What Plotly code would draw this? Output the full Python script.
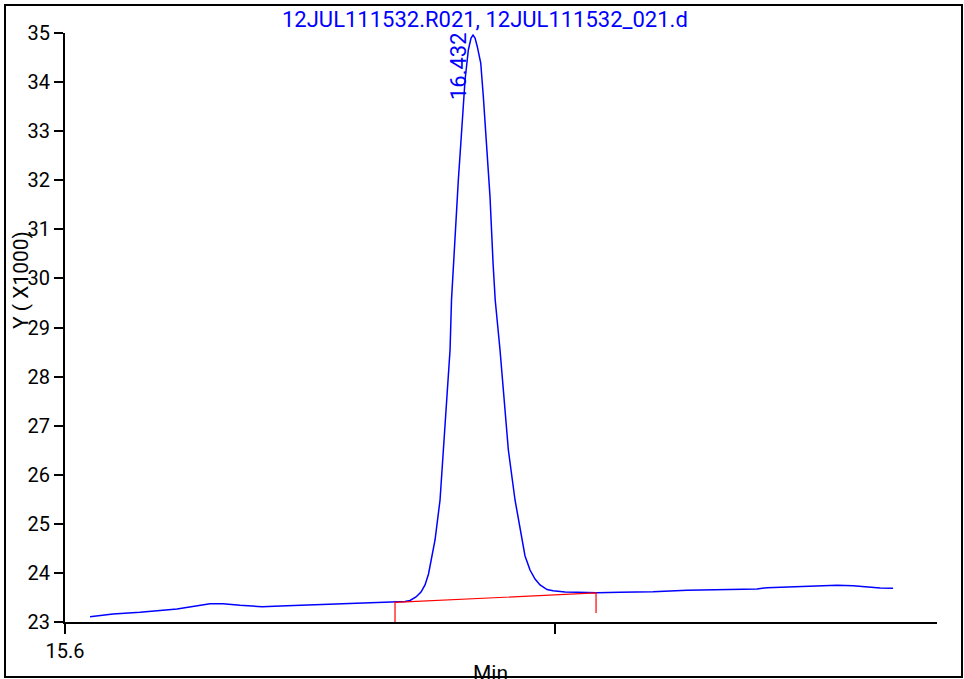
import plotly.graph_objects as go

# Chromatogram trace (time in minutes, response in thousands of counts)
time_min = [
    15.6510, 15.6979, 15.7529, 15.8284, 15.8957, 15.9222, 15.9569, 16.0017,
    16.0527, 16.1057, 16.1608, 16.2219, 16.2688, 16.2933, 16.3035, 16.3157,
    16.3259, 16.3341, 16.3412, 16.3473, 16.3545, 16.3647, 16.3714, 16.3783,
    16.3851, 16.3881, 16.3957, 16.4020, 16.4089, 16.4157, 16.4224, 16.4279,
    16.4320, 16.4361, 16.4407, 16.4477, 16.4530, 16.4599, 16.4666, 16.4728,
    16.4772, 16.4870, 16.4952, 16.5040, 16.5176, 16.5313, 16.5380, 16.5482,
    16.5584, 16.5686, 16.5829, 16.5951, 16.6196, 16.6441, 16.6848, 16.7317,
    16.7990, 16.8684, 16.9356, 17.0111, 17.0315, 17.1049, 17.1742, 17.2069,
    17.2619, 17.2884,
]
response_k = [
    23.108, 23.163, 23.198, 23.265, 23.373, 23.373, 23.340, 23.312,
    23.332, 23.352, 23.373, 23.381, 23.401, 23.418, 23.438, 23.509,
    23.611, 23.754, 23.978, 24.263, 24.671, 25.486, 26.504, 27.523,
    28.542, 29.560, 30.986, 32.005, 33.024, 34.043, 34.654, 34.898,
    34.959, 34.898, 34.721, 34.389, 33.702, 32.684, 31.665, 30.314,
    29.560, 28.542, 27.523, 26.504, 25.486, 24.671, 24.345, 24.059,
    23.876, 23.754, 23.662, 23.638, 23.611, 23.605, 23.597, 23.605,
    23.617, 23.646, 23.658, 23.672, 23.699, 23.727, 23.748, 23.740,
    23.693, 23.687,
]

# Integration baseline with start/end drop lines
baseline_t = [16.2729, 16.2729, 16.6828, 16.6828]
baseline_v = [23.0, 23.401, 23.591, 23.183]

peak_rt = 16.432
peak_height = 34.959
peak_label = "16.432"

x_ticks = [15.6, 16.6]
x_ticktext = ["15.6", ""]
y_ticks = list(range(23, 36))

title_text = "12JUL111532.R021, 12JUL111532_021.d"
y_title = "Y ( X1000)"
x_title = "Min"

BLUE = "#0000ff"
FONT = "Roboto"

fig = go.Figure()
fig.add_trace(go.Scatter(
    x=time_min, y=response_k, mode="lines",
    line=dict(color=BLUE, width=1.5),
    hoverinfo="skip", showlegend=False,
))
fig.add_trace(go.Scatter(
    x=baseline_t, y=baseline_v, mode="lines",
    line=dict(color="#ff0000", width=1.2),
    hoverinfo="skip", showlegend=False,
))

W, H = 964, 679
ML, MR, MT, MB = 65, 27, 33, 57
pw, ph = W - ML - MR, H - MT - MB


def px_x(p):
    return (p - ML) / pw


def px_y(p):
    return (H - MB - p) / ph


fig.update_layout(
    width=W, height=H,
    margin=dict(l=ML, r=MR, t=MT, b=MB, pad=0),
    paper_bgcolor="white", plot_bgcolor="white",
    font=dict(family=FONT, size=20, color="black"),
    xaxis=dict(
        range=[15.6, 17.378], showgrid=False, zeroline=False,
        showline=True, linecolor="black", linewidth=2,
        ticks="outside", ticklen=10, tickwidth=2, tickcolor="black",
        tickvals=x_ticks, ticktext=x_ticktext,
        tickfont=dict(size=20, color="black"),
    ),
    yaxis=dict(
        range=[23, 35], showgrid=False, zeroline=False,
        showline=True, linecolor="black", linewidth=2,
        ticks="outside", ticklen=9, tickwidth=1.5, tickcolor="black",
        tickvals=y_ticks, tickfont=dict(size=20, color="black"),
    ),
    showlegend=False,
)

fig.add_annotation(
    text=title_text, xref="paper", yref="paper",
    x=px_x(485), y=px_y(20), xanchor="center", yanchor="middle",
    showarrow=False, font=dict(size=22, color=BLUE, family=FONT),
)
fig.add_annotation(
    text=peak_label, x=peak_rt, y=peak_height, xref="x", yref="y",
    textangle=-90, xanchor="center", yanchor="middle",
    xshift=-15, yshift=-31, showarrow=False,
    font=dict(size=22, color=BLUE, family=FONT),
)
fig.add_annotation(
    text=y_title, xref="paper", yref="paper",
    x=px_x(21), y=px_y(280), xanchor="center", yanchor="middle",
    textangle=-90, showarrow=False,
    font=dict(size=21, color="black", family=FONT),
)
fig.add_annotation(
    text=x_title, xref="paper", yref="paper",
    x=px_x(490), y=px_y(659), xanchor="center", yanchor="top",
    showarrow=False, font=dict(size=21, color="black", family=FONT),
)

# Outer frame
fig.add_shape(
    type="rect", xref="paper", yref="paper",
    x0=px_x(5), x1=px_x(962), y0=px_y(677), y1=px_y(5),
    line=dict(color="black", width=2), layer="above",
)

fig.write_html("out.html")
